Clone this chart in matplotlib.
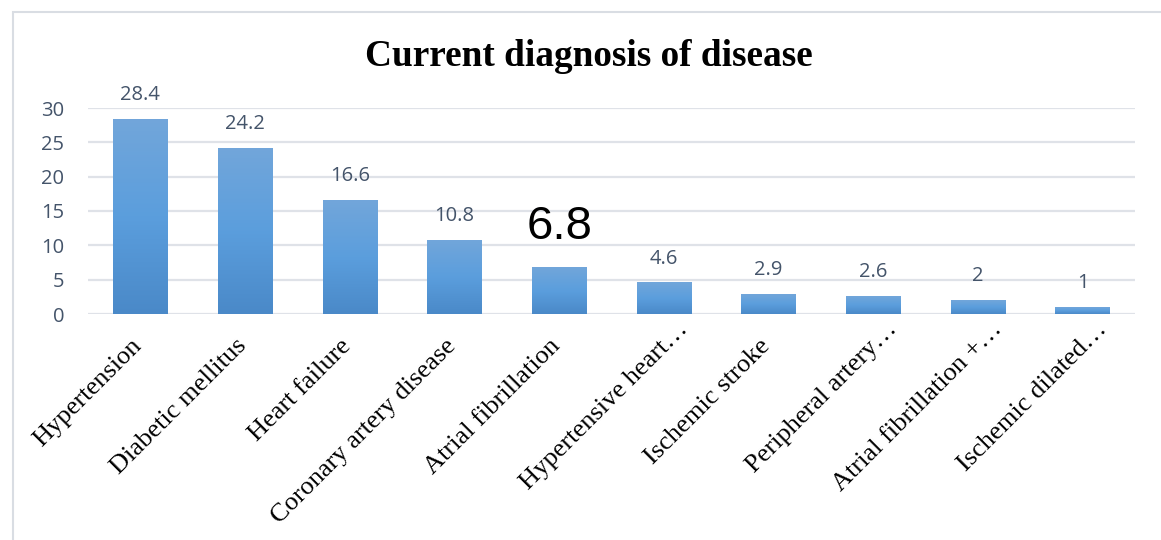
import numpy as np
import matplotlib
matplotlib.use("Agg")
import matplotlib.pyplot as plt
import matplotlib.transforms as mtransforms
from matplotlib.colors import LinearSegmentedColormap
from matplotlib.patches import Rectangle

categories = ["Hypertension", "Diabetic mellitus", "Heart failure",
              "Coronary artery disease", "Atrial fibrillation",
              "Hypertensive heart…", "Ischemic stroke", "Peripheral artery…",
              "Atrial fibrillation +…", "Ischemic dilated…"]
values = [28.4, 24.2, 16.6, 10.8, 6.8, 4.6, 2.9, 2.6, 2, 1]
yticks = [0, 5, 10, 15, 20, 25, 30]

fig = plt.figure(figsize=(11.61, 5.40), dpi=100)
fig.patches.append(Rectangle((13/1161, -0.1), 1.2, (540-11.5)/540 + 0.1,
                             transform=fig.transFigure, fill=False,
                             edgecolor="#d9dde3", linewidth=1.5))
ax = fig.add_axes([88/1161, (540-314)/540, (1135-88)/1161, (314-108)/540])

x = np.arange(len(values))
bars = ax.bar(x, values, width=0.52, color="#5b9bd5", zorder=2)

cmap = LinearSegmentedColormap.from_list("g", ["#4a89c8", "#5b9edd", "#72a6da"])
grad = np.linspace(0, 1, 256).reshape(-1, 1)
for b in bars:
    x0, y0 = b.get_x(), b.get_y()
    w, h = b.get_width(), b.get_height()
    im = ax.imshow(grad, cmap=cmap, origin="lower", aspect="auto",
                   extent=(x0, x0 + w, y0, y0 + h), zorder=3)
    im.set_clip_path(b)
    b.set_facecolor("none")
    b.set_edgecolor("none")

ax.set_xlim(-0.5, len(values) - 0.5)
ax.set_ylim(0, 30)
ax.set_yticks(yticks)
ax.grid(axis="y", color="#dfe2e8", linewidth=1.6, zorder=0)
ax.set_axisbelow(True)
for s in ax.spines.values():
    s.set_visible(False)
ax.tick_params(axis="y", length=0, pad=17, labelsize=14.5, labelcolor="#44546a")
for t in ax.get_yticklabels():
    t.set_fontfamily("Open Sans")
ax.set_xticks(x)
ax.tick_params(axis="x", length=0, labelbottom=False)

blend = mtransforms.blended_transform_factory(ax.transData, ax.transAxes)
for i, cat in enumerate(categories):
    if cat.endswith("…"):
        dx, dy = 13, -4
    else:
        dx, dy = -10, -21
    tr = blend + mtransforms.ScaledTranslation(dx / 100, dy / 100, fig.dpi_scale_trans)
    ax.text(x[i], 0, cat, transform=tr, rotation=45, ha="right", va="top",
            rotation_mode="anchor", fontsize=19,
            fontfamily="Liberation Serif", color="black")

for i, (b, v) in enumerate(zip(bars, values)):
    cx = b.get_x() + b.get_width() / 2
    txt = f"{v:g}"
    if v == 6.8:
        ax.annotate(txt, (cx, v), xytext=(0, 13), textcoords="offset points",
                    ha="center", va="bottom", fontsize=34,
                    fontfamily="Liberation Sans", color="black")
    else:
        ax.annotate(txt, (cx, v), xytext=(0, 10), textcoords="offset points",
                    ha="center", va="bottom", fontsize=14.5,
                    fontfamily="Open Sans", color="#44546a")

fig.text((365 + 813) / 2 / 1161, 1 - 56 / 540, "Current diagnosis of disease",
         ha="center", va="center", fontsize=26.8, fontweight="bold",
         fontfamily="Liberation Serif")

fig.savefig("out.png", dpi=100)
